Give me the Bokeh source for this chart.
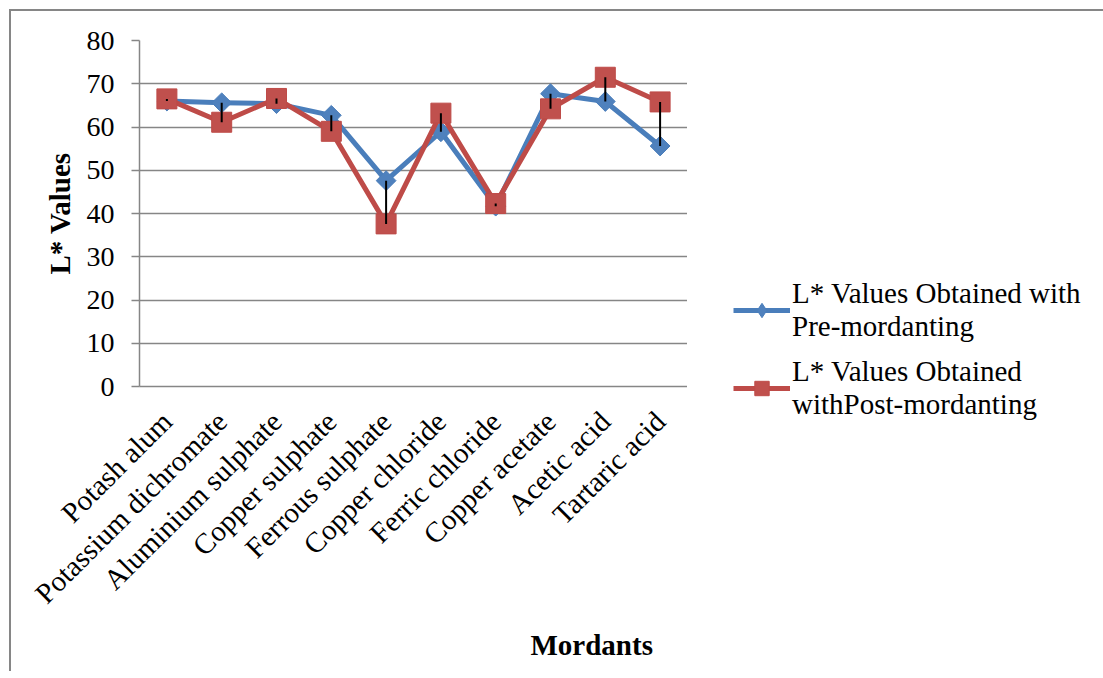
import numpy as np
from bokeh.plotting import figure
from bokeh.layouts import row
from bokeh.models import (Range1d, FactorRange, Legend, LegendItem, Title,
                          FixedTicker)
from bokeh.embed import file_html
from bokeh.resources import INLINE

# L* values for each mordant, pre- and post-mordanting
mordants = ["Potash alum", "Potassium dichromate", "Aluminium sulphate",
            "Copper sulphate", "Ferrous sulphate", "Copper chloride",
            "Ferric chloride", "Copper acetate", "Acetic acid", "Tartaric acid"]
pre_values = [66.0, 65.6, 65.4, 62.7, 47.6, 58.9, 41.7, 67.7, 65.9, 55.6]
post_values = [66.5, 61.1, 66.6, 59.0, 37.6, 63.2, 42.3, 64.2, 71.5, 65.8]
y_ticks = [0, 10, 20, 30, 40, 50, 60, 70, 80]

pre_label = "L* Values Obtained with\nPre-mordanting"
post_label = "L* Values Obtained\nwithPost-mordanting"

SERIF = "Liberation Serif"
GREY = "#868686"
BLUE_LINE, BLUE_FILL = "#4a7ebb", "#4f81bd"
RED_LINE, RED_FILL = "#be4b48", "#c0504d"
HEIGHT = 660

pre_style = dict(line_color=BLUE_LINE, line_width=5, line_join="round")
pre_marker = dict(marker="square", angle=np.pi / 4, size=14,
                  fill_color=BLUE_FILL, line_color=BLUE_LINE)
post_style = dict(line_color=RED_LINE, line_width=5, line_join="round")
post_marker = dict(marker="square", size=20, fill_color=RED_FILL, line_color=RED_LINE)

# ---- main chart ----
p = figure(x_range=FactorRange(*mordants), y_range=Range1d(0, 80),
           width=676, height=HEIGHT, output_backend="svg", toolbar_location=None,
           min_border_left=128, min_border_top=29,
           min_border_right=0, min_border_bottom=HEIGHT - 375)
p.outline_line_color = None
p.background_fill_color = "white"
p.border_fill_color = "white"

p.xgrid.visible = False
p.ygrid.grid_line_color = GREY
p.ygrid.grid_line_width = 1.5

p.yaxis.ticker = FixedTicker(ticks=y_ticks)
p.yaxis.axis_line_color = GREY
p.yaxis.axis_line_width = 1.5
p.yaxis.major_tick_line_color = GREY
p.yaxis.major_tick_line_width = 1.5
p.yaxis.major_tick_in = 0
p.yaxis.major_tick_out = 8
p.yaxis.minor_tick_line_color = None
p.yaxis.major_label_standoff = 17
p.yaxis.major_label_text_font = SERIF
p.yaxis.major_label_text_font_size = "28px"
p.yaxis.major_label_text_color = "black"
p.yaxis.axis_label = "L* Values"
p.yaxis.axis_label_text_font = SERIF
p.yaxis.axis_label_text_font_size = "29px"
p.yaxis.axis_label_text_font_style = "bold"
p.yaxis.axis_label_text_color = "black"
p.yaxis.axis_label_standoff = 8

p.xaxis.axis_line_color = GREY
p.xaxis.axis_line_width = 1.5
p.xaxis.major_tick_line_color = None
p.xaxis.minor_tick_line_color = None
p.xaxis.major_label_orientation = np.pi / 4
p.xaxis.major_label_standoff = 24
p.xaxis.major_label_text_font = SERIF
p.xaxis.major_label_text_font_size = "29px"
p.xaxis.major_label_text_color = "black"

p.add_layout(Title(text="Mordants", align="left", offset=391, standoff=6,
                   text_font=SERIF, text_font_size="29px",
                   text_font_style="bold", text_color="black"), "below")

p.line(mordants, pre_values, **pre_style)
p.scatter(mordants, pre_values, **pre_marker)
p.line(mordants, post_values, **post_style)
p.scatter(mordants, post_values, **post_marker)

# high-low lines between the two series
p.segment(x0=mordants, y0=pre_values, x1=mordants, y1=post_values,
          line_color="black", line_width=2)

# ---- legend panel ----
lg = figure(width=416, height=HEIGHT, x_range=Range1d(0, 1), y_range=Range1d(0, 1),
            output_backend="svg", toolbar_location=None, min_border=0)
lg.axis.visible = False
lg.grid.visible = False
lg.outline_line_color = None
lg.border_fill_color = "white"
lg.frame_align = False   # keep this panel's frame at its full size

# sample renderers for the legend keys; their single point lies outside
# the panel's visible range, so only the legend entries are drawn
off = [-1.0]
legend_pre_marker = dict(pre_marker, marker="diamond", angle=0)
k1 = lg.line(off, off, **pre_style)
m1 = lg.scatter(off, off, **legend_pre_marker)
k2 = lg.line(off, off, **post_style)
m2 = lg.scatter(off, off, **post_marker)

legend = Legend(items=[LegendItem(label=pre_label, renderers=[k1, m1]),
                       LegendItem(label=post_label, renderers=[k2, m2])],
                location=(46, HEIGHT - 410), orientation="vertical",
                glyph_width=57, glyph_height=36, label_standoff=2,
                padding=0, margin=0, spacing=12,
                border_line_color=None, background_fill_alpha=0,
                label_text_font=SERIF, label_text_font_size="29px",
                label_text_color="black")
lg.add_layout(legend, "center")

layout = row(p, lg, spacing=0)
layout.styles = {"margin-left": "9px", "margin-top": "9px",
                 "border-left": f"2px solid {GREY}", "border-top": f"2px solid {GREY}"}

open("out.html", "w").write(file_html(layout, INLINE))
